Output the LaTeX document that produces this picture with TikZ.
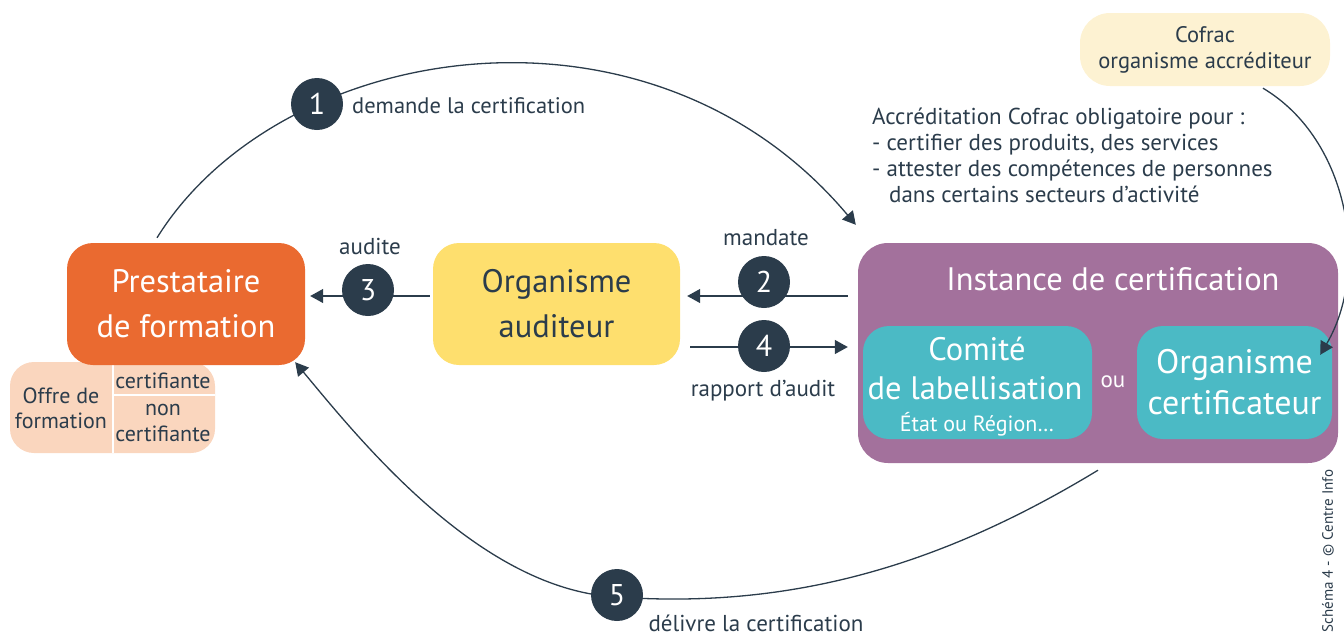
\documentclass[tikz,border=0pt]{standalone}
\usepackage{fontspec}
\setmainfont{PT Sans}
\usetikzlibrary{arrows.meta}
\definecolor{ink}{HTML}{2B3C4B}
\definecolor{orangeP}{HTML}{EA6A30}
\definecolor{yellowA}{HTML}{FEDF6E}
\definecolor{purpleI}{HTML}{A3719C}
\definecolor{tealC}{HTML}{4BBAC5}
\definecolor{peachO}{HTML}{FAD6BE}
\definecolor{creamC}{HTML}{FDF2D2}
\newcommand{\fsz}[2]{\fontsize{#1}{#2}\selectfont}

\begin{document}
\begin{tikzpicture}[x=1pt,y=-1pt,
  box/.style={rounded corners=26pt, align=center, inner sep=0pt},
  big/.style={font=\fsz{32.5}{45}},
  mid/.style={font=\fsz{23}{26}, text=ink, align=center, inner sep=1pt},
  num/.style={circle, fill=ink, text=white, minimum size=52pt, inner sep=0pt, font=\fsz{30}{30}},
  conn/.style={draw=ink, line width=1.3pt},
  arr/.style={conn, -{Triangle[length=13pt,width=14pt]}},
  divider/.style={draw=white, line width=2pt}
]
\useasboundingbox (0,0) rectangle (1344,635);

% offer of training (split box, partly under the provider box)
\node[box, rounded corners=24pt, fill=peachO, minimum width=205pt, minimum height=91pt] (offre) at (112.5,407.5) {};
\draw[divider] (offre.north) -- (offre.south);
\draw[divider] (offre.center |- 0,395) -- (offre.east |- 0,395);
\node[mid, font=\fsz{22}{25}] (offreL) at (61,408) {Offre de\\formation};
\node[mid, font=\fsz{22}{25}] (certA) at (163,381) {certifiante};
\node[mid, font=\fsz{22}{26}] (certB) at (163,423) {non\\certifiante};

% main boxes
\node[box, fill=orangeP, text=white, big, minimum width=238pt, minimum height=122pt] (pres) at (186,304) {Prestataire\\de formation};
\node[box, fill=yellowA, text=ink, big, minimum width=247pt, minimum height=122pt] (aud) at (556.5,304) {Organisme\\auditeur};
\node[box, rounded corners=30pt, fill=purpleI, minimum width=480pt, minimum height=220pt] (inst) at (1098,353) {};
\node[text=white, big] (instT) at (1113,279) {Instance de certification};
\node[box, fill=tealC, minimum width=229pt, minimum height=113pt] (comite) at (977.5,382.5) {};
\node[text=white, big] (comT) at (977,349) {Comité};
\node[text=white, big] (comL) at (975,388) {de labellisation};
\node[text=white, font=\fsz{22}{25}] (comR) at (977,424) {État ou Région…};
\node[text=white, font=\fsz{23}{25}] (ou) at (1113,382) {ou};
\node[box, fill=tealC, text=white, font=\fsz{34}{41}, minimum width=195pt, minimum height=113pt] (ocert) at (1234.5,382.5) {Organisme\\certificateur};

% accreditation body and note
\node[box, rounded corners=30pt, fill=creamC, text=ink, font=\fsz{22.5}{26}, minimum width=250pt, minimum height=73pt] (cofrac) at (1205,49.5) {Cofrac\\organisme accréditeur};
\node[mid, font=\fsz{23}{26}, anchor=north west, align=left] (note) at (871,107)
  {Accréditation Cofrac obligatoire pour :\\
   - certifier des produits, des services\\
   - attester des compétences de personnes\\
   \hspace*{17pt}dans certains secteurs d’activité};

% connectors
\draw[arr] ([xshift=-29pt,yshift=5pt]pres.north) .. controls (280,40) and (650,-20) .. ([xshift=-2pt,yshift=18pt]inst.north west);
\draw[arr] ([xshift=-3pt,yshift=8pt]aud.west) -- ([xshift=5pt,yshift=8pt]pres.east);
\draw[arr] ([xshift=-10pt,yshift=57pt]inst.west) -- ([xshift=7pt,yshift=8pt]aud.east);
\draw[arr] ([xshift=10pt,yshift=-43pt]aud.east) -- ([xshift=-10pt,yshift=6pt]inst.west);
\draw[arr] ([yshift=-7pt]inst.south) .. controls (950,560) and (800,610) .. (617,597)
  .. controls (480,590) and (360,440) .. ([xshift=-10pt,yshift=3pt]pres.south east);
\draw[arr] ([xshift=58pt,yshift=-2pt]cofrac.south) .. controls (1350,140) and (1370,270) .. ([xshift=-12pt,yshift=-29pt]ocert.north east);

% step numbers
\node[num] (n1) at (317,104) {1};
\node[num] (n2) at (764,282) {2};
\node[num] (n3) at (368,290) {3};
\node[num] (n4) at (764,346) {4};
\node[num] (n5) at (617,595) {5};

% connector labels
\node[mid, anchor=west, font=\fsz{22.5}{26}] (l1) at (351,106) {demande la certification};
\node[mid] (l2) at (766,238) {mandate};
\node[mid] (l3) at (370,246) {audite};
\node[mid] (l4) at (763,391) {rapport d’audit};
\node[mid] (l5) at (756,623) {délivre la certification};

% credit line
\node[text=ink, font=\fsz{15}{17}, rotate=90, inner sep=1pt] (credit) at (1328,551) {Schéma 4 - © Centre Info};
\end{tikzpicture}
\end{document}
